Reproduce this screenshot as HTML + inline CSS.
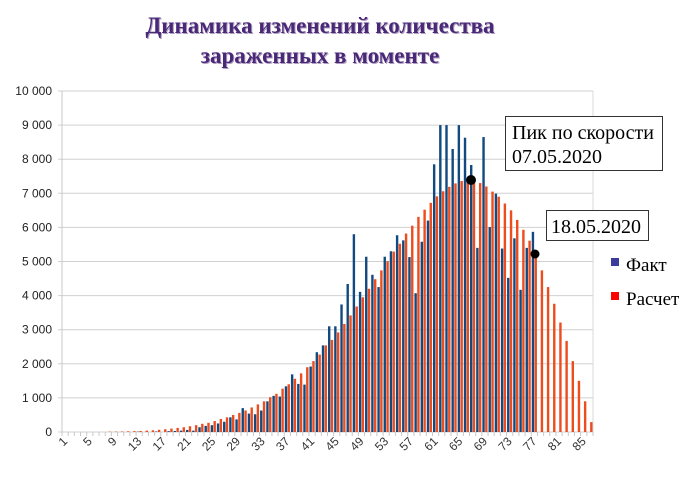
<!DOCTYPE html>
<html><head><meta charset="utf-8">
<style>
html,body{margin:0;padding:0;background:#fff;}
body{width:700px;height:481px;overflow:hidden;}
</style></head>
<body>
<svg id="s" width="700" height="481" xmlns="http://www.w3.org/2000/svg" font-family="Liberation Sans, sans-serif">
<g font-family="Liberation Serif, serif" font-weight="bold" font-size="23" text-anchor="middle">
<text x="321" y="34" fill="#b0a0c0">Динамика изменений количества</text>
<text x="320" y="33" fill="#4a2878">Динамика изменений количества</text>
<text x="321" y="64" fill="#b0a0c0">зараженных в моменте</text>
<text x="320" y="63" fill="#4a2878">зараженных в моменте</text>
</g>
<g id="grid"></g>
<g id="bars"></g>
<g id="xl" font-size="12" fill="#333"></g>
<circle cx="471" cy="180" r="5" fill="#000"/>
<circle cx="535" cy="254" r="4.5" fill="#000"/>
<rect x="505.5" y="116.5" width="157" height="54" fill="#fff" stroke="#333"/>
<text x="512" y="139" font-family="Liberation Serif, serif" font-size="20" fill="#000">Пик по скорости</text>
<text x="512" y="163" font-family="Liberation Serif, serif" font-size="20" fill="#000">07.05.2020</text>
<rect x="546.5" y="210.5" width="102" height="30" fill="#fff" stroke="#333"/>
<text x="551" y="233" font-family="Liberation Serif, serif" font-size="20" fill="#000">18.05.2020</text>
<rect x="611" y="258" width="8" height="8" fill="#3c3c9c"/>
<text x="626" y="271" font-family="Liberation Serif, serif" font-size="19" fill="#000">Факт</text>
<rect x="611" y="292" width="8" height="8" fill="#ff0000"/>
<text x="626" y="305" font-family="Liberation Serif, serif" font-size="19" fill="#000">Расчет</text>
</svg>
<script>
var NS="http://www.w3.org/2000/svg";
function el(p,t,a,txt){var e=document.createElementNS(NS,t);for(var k in a)e.setAttribute(k,a[k]);if(txt)e.textContent=txt;document.getElementById(p).appendChild(e);return e;}
var y0=432,ppk=34.1,L=62,R=593,n=86,w=(R-L)/n;
for(var v=0;v<=10;v++){var y=y0-v*ppk;
 el("grid","line",{x1:L-4,x2:R,y1:y,y2:y,stroke:"#d0d0d0","stroke-width":1});
 el("grid","text",{x:52,y:y+4,"text-anchor":"end","font-size":"12",fill:"#222"},v==0?"0":(v==10?"10 000":v+" 000"));}
el("grid","line",{x1:L,x2:L,y1:y0-10*ppk,y2:y0+4,stroke:"#c8c8c8"});
el("grid","line",{x1:R,x2:R,y1:y0-10*ppk,y2:y0,stroke:"#d8d8d8"});
for(var i=0;i<=n;i++){var x=L+i*w;el("grid","line",{x1:x,x2:x,y1:y0,y2:y0+4,stroke:"#c8c8c8"});}
var red={8:10,9:12,10:15,11:20,12:25,13:30,14:40,15:50,16:65,17:80,18:100,19:120,20:140,21:170,22:200,23:240,24:270,25:320,26:380,27:430,28:500,29:560,30:630,31:720,32:810,33:900,34:1020,35:1120,36:1270,37:1400,38:1560,39:1720,40:1900,41:2080,42:2270,43:2540,44:2700,45:2920,46:3170,47:3420,48:3680,49:3950,50:4200,51:4480,52:4740,53:5010,54:5290,55:5520,56:5820,57:6050,58:6310,59:6520,60:6720,61:6910,62:7060,63:7190,64:7290,65:7360,66:7340,67:7300,68:7300,69:7200,70:7050,71:6900,72:6700,73:6500,74:6220,75:5930,76:5610,77:5320,78:4740,79:4250,80:3760,81:3210,82:2670,83:2080,84:1500,85:900,86:290};
var blue={13:10,16:15,18:25,19:30,20:40,21:60,22:40,23:140,24:180,25:200,26:250,27:300,28:430,29:370,30:700,31:540,32:520,33:630,34:900,35:1060,36:1040,37:1340,38:1690,39:1410,40:1390,41:1920,42:2340,43:2540,44:3100,45:3100,46:3740,47:4340,48:5800,49:4110,50:5140,51:4610,52:4250,53:5140,54:5300,55:5770,56:5620,57:5130,58:4070,59:5580,60:6200,61:7850,62:9000,63:9000,64:8300,65:9000,66:8630,67:7830,68:5400,69:8650,70:6010,71:6990,72:5380,73:4520,74:5680,75:4170,76:5400,77:5870};
for(var i=1;i<=n;i++){var c=L+(i-0.5)*w;
 if(blue[i]){var h=blue[i]*ppk/1000;el("bars","rect",{x:c-2.6,y:y0-h,width:2.4,height:h,fill:"#124a80"});}
 if(red[i]){var h=red[i]*ppk/1000;el("bars","rect",{x:c+0.2,y:y0-h,width:2.4,height:h,fill:"#ec4c1e"});}
}
for(var i=1;i<=n;i+=4){var c=L+(i-0.5)*w+3;
 el("xl","text",{x:c,y:y0+10,"text-anchor":"end",transform:"rotate(-45 "+c+" "+(y0+10)+")"},String(i));}
</script>
</body></html>
